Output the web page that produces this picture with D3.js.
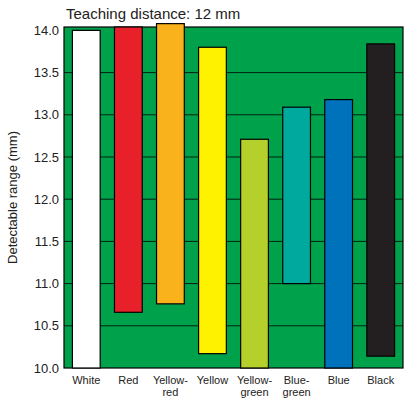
<!DOCTYPE html>
<html><head><meta charset="utf-8">
<script src="https://cdn.jsdelivr.net/npm/d3@7"></script>
<style>body{margin:0;background:#fff}text{font-family:Arial,"Liberation Sans",sans-serif;fill:#222}</style>
</head><body><svg id="c" width="409" height="409"></svg>
<script>
var categories = ["White","Red","Yellow-\nred","Yellow","Yellow-\ngreen","Blue-\ngreen","Blue","Black"];
var lows  = [10.0, 10.66, 10.76, 10.17, 10.0, 11.0, 10.0, 10.14];
var highs = [14.0, 14.04, 14.08, 13.8, 12.71, 13.09, 13.18, 13.84];
var colors = ["#ffffff","#e8202a","#f9b21b","#fff200","#b5cf2b","#00a99d","#0072bc","#231f20"];
var ticks = [10.0,10.5,11.0,11.5,12.0,12.5,13.0,13.5,14.0];

var svg = d3.select("#c");
var m = {l:64, r:6, t:27, b:41};
var W = 409 - m.l - m.r, H = 409 - m.t - m.b;
var y = d3.scaleLinear().domain([10, 14.04]).range([m.t + H, m.t]);
var x = d3.scaleBand().domain(categories).range([m.l, m.l + W]).paddingInner(0.34).paddingOuter(0.2);

svg.append("rect").attr("x", m.l).attr("y", m.t).attr("width", W).attr("height", H)
  .attr("fill", "#00a14b").attr("stroke", "#000").attr("stroke-width", 1.2);

svg.append("g").selectAll("line").data(ticks.slice(1, -1)).enter().append("line")
  .attr("x1", m.l).attr("x2", m.l + W)
  .attr("y1", function(d) { return y(d); }).attr("y2", function(d) { return y(d); })
  .attr("stroke", "#000").attr("stroke-width", 0.8);

var ax = svg.append("g").attr("transform", "translate(" + m.l + ",0)")
  .call(d3.axisLeft(y).tickValues(ticks).tickFormat(d3.format(".1f")).tickSize(0).tickPadding(5));
ax.select(".domain").remove();
ax.selectAll("text").style("font-size", "13px");

svg.append("g").selectAll("rect").data(categories).enter().append("rect")
  .attr("x", function(d) { return x(d); })
  .attr("width", x.bandwidth())
  .attr("y", function(d, i) { return y(highs[i]); })
  .attr("height", function(d, i) { return y(lows[i]) - y(highs[i]); })
  .attr("fill", function(d, i) { return colors[i]; })
  .attr("stroke", "#000").attr("stroke-width", 1.2);

var lab = svg.append("g").selectAll("text").data(categories).enter().append("text")
  .attr("text-anchor", "middle").style("font-size", "11px")
  .attr("x", function(d) { return x(d) + x.bandwidth() / 2; })
  .attr("y", m.t + H + 16);
lab.each(function(d) {
  var t = d3.select(this);
  d.split("\n").forEach(function(s, k) {
    t.append("tspan").attr("x", t.attr("x")).attr("dy", k ? 12 : 0).text(s);
  });
});

svg.append("text").attr("transform", "translate(17," + (m.t + H / 2) + ") rotate(-90)")
  .attr("text-anchor", "middle").style("font-size", "13px").text("Detectable range (mm)");
svg.append("text").attr("x", 66).attr("y", 19).style("font-size", "15px").text("Teaching distance: 12 mm");
</script></body></html>
